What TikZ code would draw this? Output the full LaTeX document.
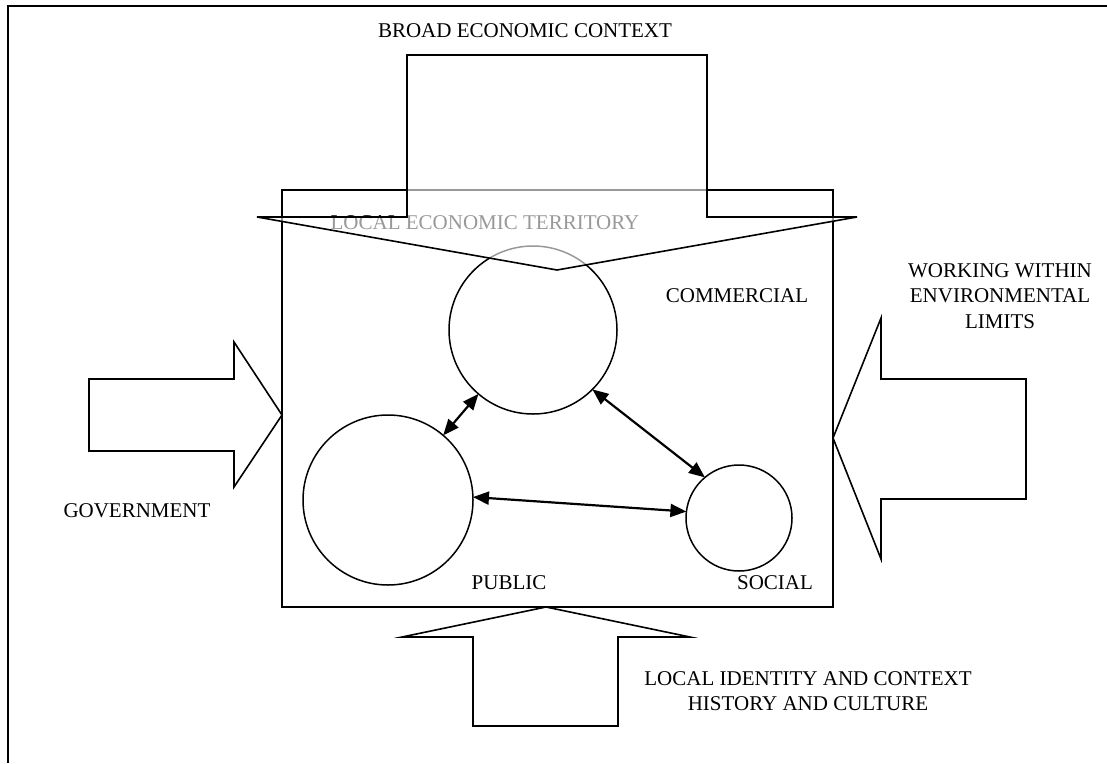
\documentclass[tikz,border=0pt]{standalone}
\usepackage{fontspec}
\setmainfont{Liberation Serif}
\usetikzlibrary{arrows.meta}
\begin{document}
\begin{tikzpicture}[x=1pt,y=-1pt,
  blockarrow/.style={draw=black,line width=1.6pt,line join=miter,fill=white},
  ring/.style={circle,draw=black,line width=1.5pt,inner sep=0pt,outer sep=0pt},
  link/.style={line width=2.2pt,{Triangle[length=16pt,width=13pt]}-{Triangle[length=16pt,width=13pt]}},
  lbl/.style={font=\fontsize{21}{26}\selectfont,inner sep=0pt,anchor=base},
  mlbl/.style={font=\fontsize{21}{25.5}\selectfont,inner sep=0pt,anchor=north,align=center}]
\useasboundingbox (0,0) rectangle (1107,763);
\fill[white] (0,0) rectangle (1107,763);
% outer frame
\draw[line width=2.4pt] (8,763) -- (8,6) -- (1107,6);
% local economic territory box
\draw[line width=1.6pt] (282,190) rectangle (833,607);
% circles
\node[ring,minimum size=168pt] (com) at (533,330) {};
\node[ring,minimum size=170pt] (pub) at (388,500) {};
\node[ring,minimum size=106pt] (soc) at (739,518) {};
% connectors
\draw[link] (com) -- (pub);
\draw[link] (com.-45) -- (soc.130);
\draw[link] (pub.2) -- (soc.173);
% labels
\node[lbl] (let) at (485,229) {LOCAL ECONOMIC TERRITORY};
\node[lbl] (commercial) at (737,302) {COMMERCIAL};
\node[lbl] (public) at (509,589) {PUBLIC};
\node[lbl] (social) at (775,589) {SOCIAL};
\node[lbl] (broad) at (525,37) {BROAD ECONOMIC CONTEXT};
\node[lbl] (gov) at (137,517) {GOVERNMENT};
\node[mlbl] (env) at (1000,263) {WORKING WITHIN\\ENVIRONMENTAL\\LIMITS};
\node[mlbl] (loc) at (808,671) {LOCAL IDENTITY AND CONTEXT\\HISTORY AND CULTURE};
% top block arrow (semi-transparent fill)
\draw[blockarrow,fill opacity=0.6] (407,55) -- (707,55) -- (707,217) -- (857,217) -- (557,270) -- (257,217) -- (407,217) -- cycle;
% left block arrow
\draw[blockarrow] (89,379) -- (234,379) -- (234,342) -- (282,415) -- (234,487) -- (234,451) -- (89,451) -- cycle;
% right block arrow
\draw[blockarrow] (1026,379) -- (881,379) -- (881,318) -- (833,438) -- (881,559) -- (881,499) -- (1026,499) -- cycle;
% bottom block arrow
\draw[blockarrow] (473,726) -- (473,637) -- (402,637) -- (546,607) -- (690,637) -- (618,637) -- (618,726) -- cycle;
\end{tikzpicture}
\end{document}
